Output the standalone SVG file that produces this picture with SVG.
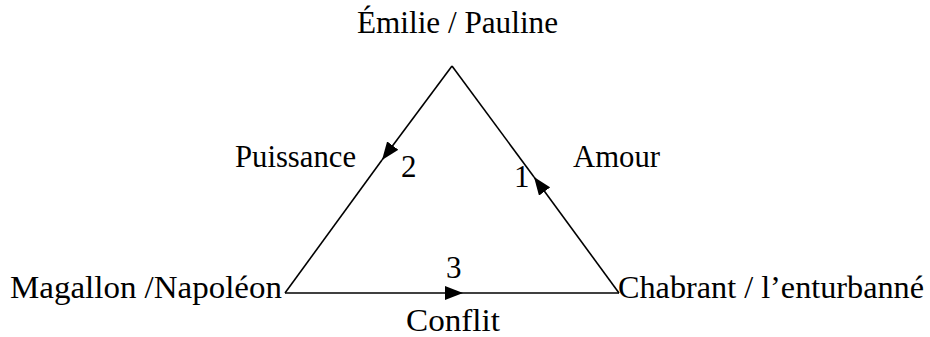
<svg xmlns="http://www.w3.org/2000/svg" width="930" height="337" viewBox="0 0 930 337">
<style>
text{font-family:"Liberation Serif","Times New Roman",serif;font-size:31px;fill:#000}
.edge{fill:none;stroke:#000;stroke-width:1.6}
</style>
<defs>
<marker id="ah" markerWidth="18" markerHeight="14" refX="18" refY="7" orient="auto" markerUnits="userSpaceOnUse">
<path d="M0,0 L18,7 L0,14 Z" fill="#000"/>
</marker>
</defs>
<rect width="930" height="337" fill="#fff"/>
<g id="connectors">
<path class="edge" d="M452,66 L382,160" marker-end="url(#ah)"/>
<path class="edge" d="M382,160 L285,293"/>
<path class="edge" d="M619,293 L534,177" marker-end="url(#ah)"/>
<path class="edge" d="M534,177 L452,66"/>
<path class="edge" d="M285,293 L463,293" marker-end="url(#ah)"/>
<path class="edge" d="M463,293 L619,293"/>
</g>
<g id="node-emilie"><text x="357" y="33" textLength="201" lengthAdjust="spacingAndGlyphs">Émilie / Pauline</text></g>
<g id="node-magallon"><text x="10" y="298" textLength="272" lengthAdjust="spacingAndGlyphs">Magallon /Napoléon</text></g>
<g id="node-chabrant"><text x="618" y="298" textLength="306" lengthAdjust="spacingAndGlyphs">Chabrant / l’enturbanné</text></g>
<g id="label-puissance"><text x="235" y="167" textLength="121" lengthAdjust="spacingAndGlyphs">Puissance</text><text x="401" y="177">2</text></g>
<g id="label-amour"><text x="573" y="167" textLength="87" lengthAdjust="spacingAndGlyphs">Amour</text><text x="514" y="187">1</text></g>
<g id="label-conflit"><text x="406" y="331" textLength="94" lengthAdjust="spacingAndGlyphs">Conflit</text><text x="446" y="278">3</text></g>
</svg>
